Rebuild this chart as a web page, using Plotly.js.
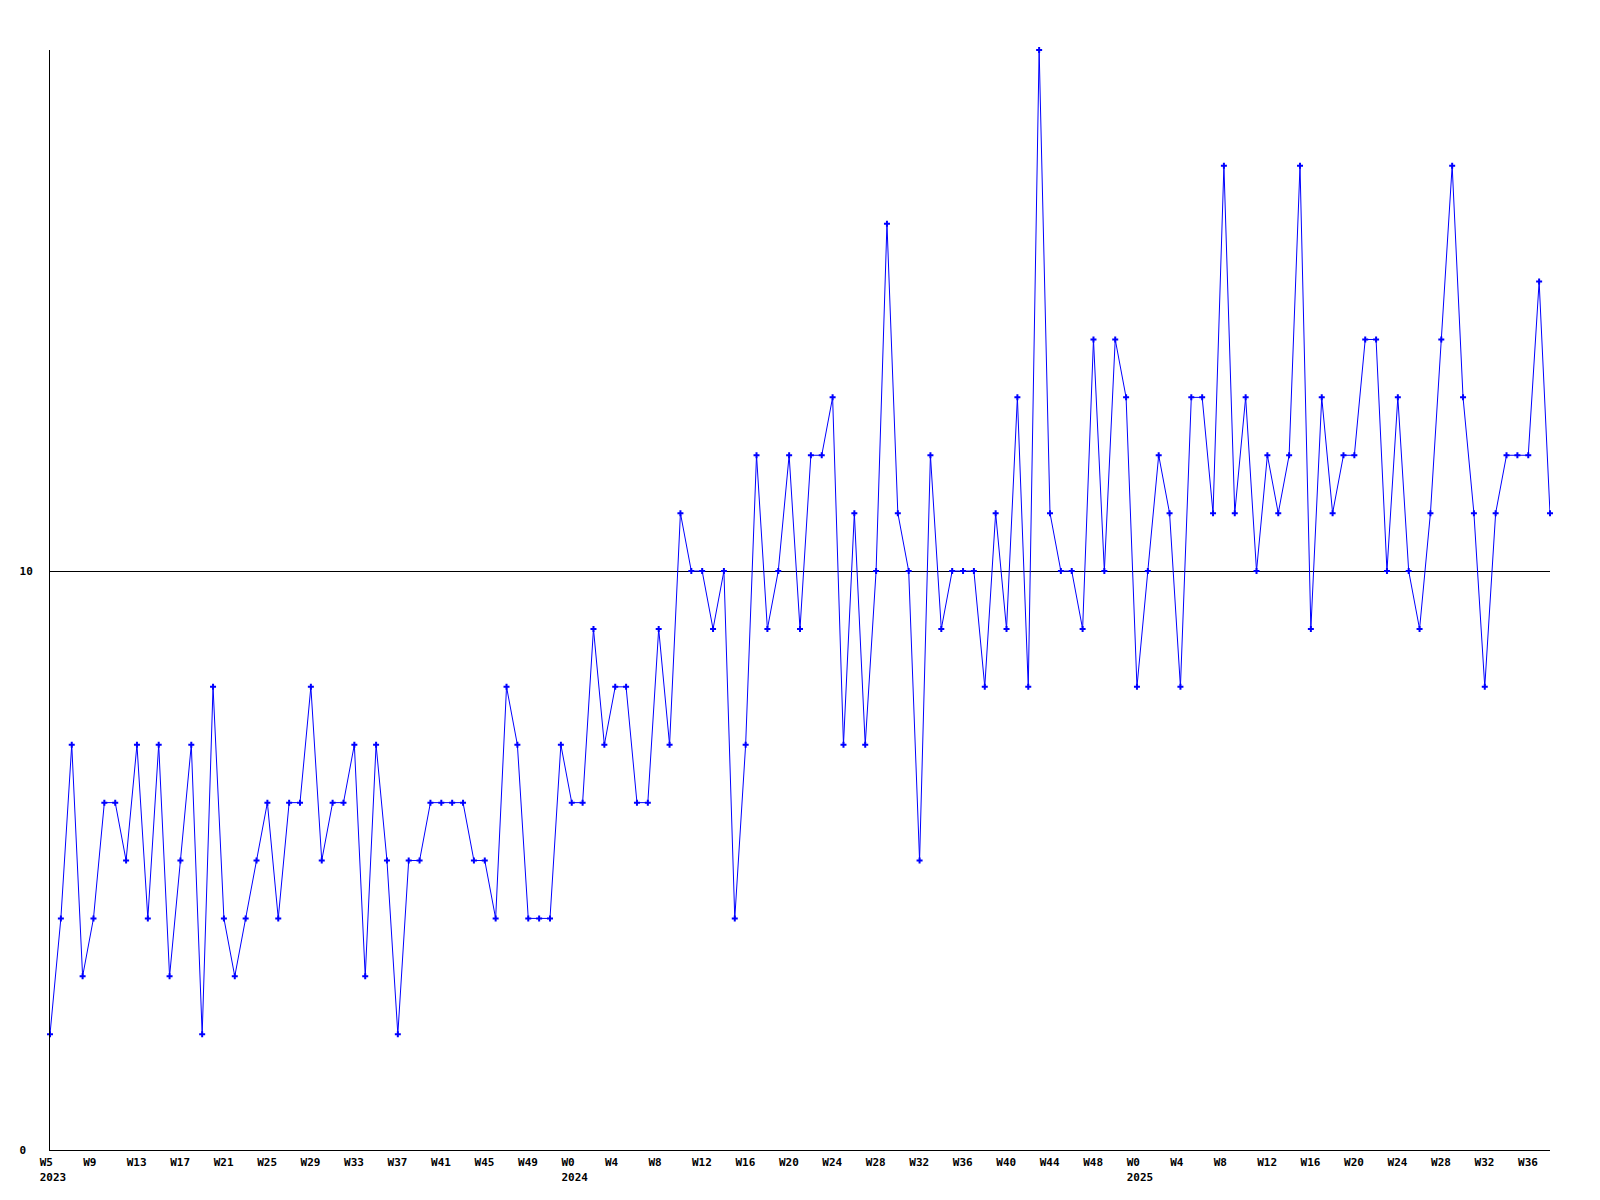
<!DOCTYPE html>
<html>
<head>
<meta charset="utf-8">
<script src="https://cdn.plot.ly/plotly-3.0.1.min.js"></script>
<style>html,body{margin:0;padding:0;background:#fff;}</style>
</head>
<body>
<div id="chart" style="width:1600px;height:1200px;"></div>
<script>
// Weekly counts, W5 2023 .. W38 2025
var values2023 = [2,4,7,3,4,6,6,5,7,4, 7,3,5,7,2,8,4,3,4,5, 6,4,6,6,8,5,6,6,7,3, 7,5,2,5,5,6,6,6,6,5, 5,4,8,7,4,4,4,7];
var values2024 = [6,6,9,7,8,8,6,6,9,7, 11,10,10,9,10,4,7,12,9,10, 12,9,12,12,13,7,11,7,10,16, 11,10,5,12,9,10,10,10,8,11, 9,13,8,19,11,10,10,9,14,10, 14,13];
var values2025 = [8,10,12,11,8,13,13,11,17,11, 13,10,12,11,12,17,9,13,11,12, 12,14,14,10,13,10,9,11,14,17, 13,11,8,11,12,12,12,15,11];

var tickIndex = [0,4,8,12,16,20,24,28,32,36,40,44, 48,52,56,60,64,68,72,76,80,84,88,92,96, 100,104,108,112,116,120,124,128,132,136];
var tickWeek  = ["W5","W9","W13","W17","W21","W25","W29","W33","W37","W41","W45","W49",
                 "W0","W4","W8","W12","W16","W20","W24","W28","W32","W36","W40","W44","W48",
                 "W0","W4","W8","W12","W16","W20","W24","W28","W32","W36"];
var tickYear  = {0:"2023", 48:"2024", 100:"2025"};

var yTickVals = [0, 10];
var yTickText = ["0", "10"];

var values = values2023.concat(values2024, values2025);
var xs = values.map(function(_, i){ return i; });

function pad(s, n){ while (s.length < n) s += "\u00a0"; return s; }
var tickText = tickIndex.map(function(t, k){
  var s = pad(tickWeek[k], 4);
  if (tickYear[t] !== undefined) s += "<br>" + pad(tickYear[t], 4);
  return s;
});

var trace = {
  x: xs, y: values, type: "scatter", mode: "lines+markers",
  line: {color: "#0000ff", width: 1},
  marker: {color: "#0000ff", size: 5, symbol: "cross"},
  cliponaxis: false,
  hoverinfo: "none"
};

var tickFont = {family: "DejaVu Sans Mono", size: 11, color: "#000", weight: "bold"};

var layout = {
  width: 1600, height: 1200,
  margin: {l: 50, r: 50, t: 50, b: 50, pad: 0},
  paper_bgcolor: "#fff", plot_bgcolor: "#fff",
  showlegend: false,
  xaxis: {
    range: [0, values.length - 1],
    tickmode: "array", tickvals: tickIndex, ticktext: tickText,
    tickfont: tickFont, ticks: "", showgrid: false, zeroline: false,
    showline: true, linecolor: "#000", linewidth: 1,
    ticklabelshift: 3, ticklabelstandoff: 2
  },
  yaxis: {
    range: [0, 19],
    tickmode: "array", tickvals: yTickVals,
    ticktext: yTickText.map(function(s){ return pad(s, 2); }),
    tickfont: tickFont, ticks: "", showgrid: true, gridcolor: "#000", gridwidth: 1,
    zeroline: false, showline: true, linecolor: "#000", linewidth: 1,
    ticklabelstandoff: 14
  }
};

Plotly.newPlot("chart", [trace], layout, {staticPlot: true, displayModeBar: false});
</script>
</body>
</html>
